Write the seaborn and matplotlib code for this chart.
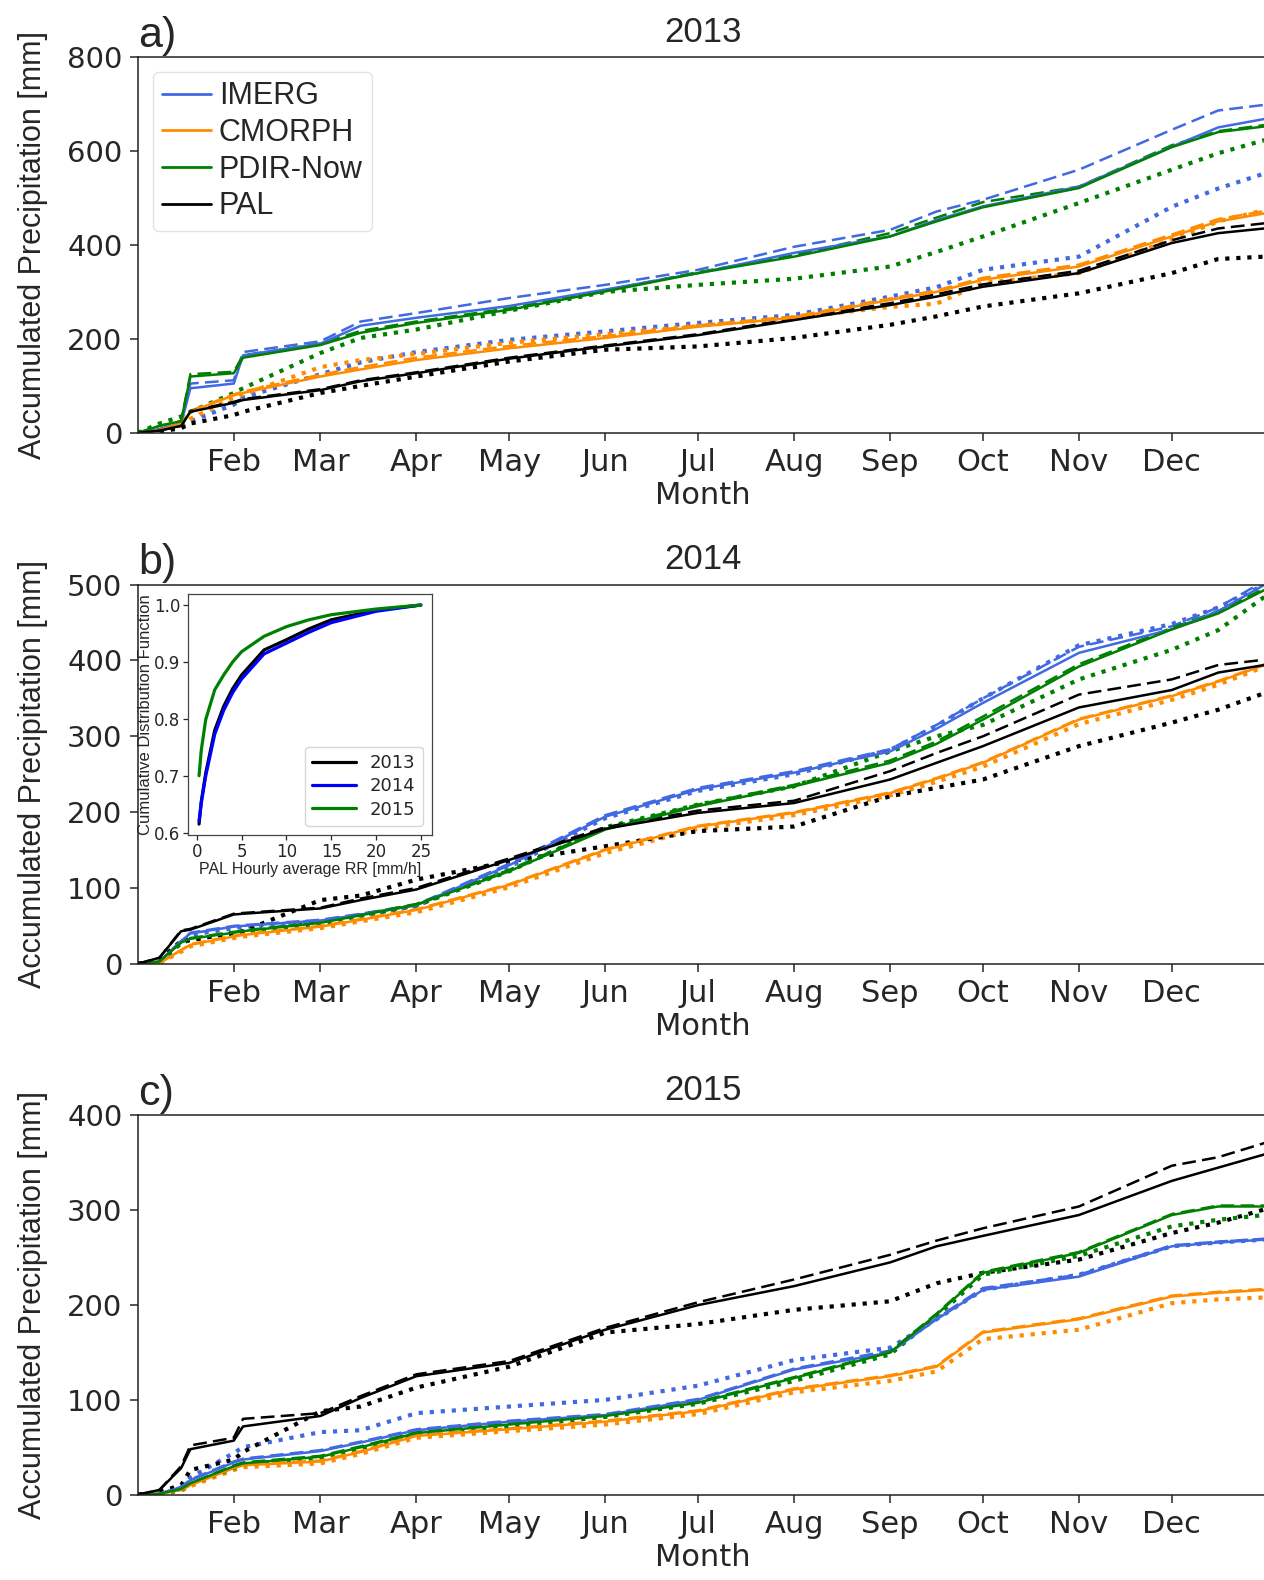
import matplotlib
matplotlib.use("Agg")
import matplotlib.pyplot as plt
import matplotlib.dates as mdates
from matplotlib.lines import Line2D
import pandas as pd
import seaborn as sns

# day of year at which the accumulated values below were read
DAYS = [0, 7, 14, 17, 31, 34, 59, 72, 90, 120, 151, 181, 212, 243, 258, 273, 304, 334, 349, 364]

PRODUCTS = ["IMERG", "CMORPH", "PDIR-Now", "PAL"]
COLORS = {"IMERG": "#4169E1", "CMORPH": "#FF8C00", "PDIR-Now": "#008000", "PAL": "black"}

# each product: [solid variant, dashed variant, dotted variant]
IMERG_2013 = [
    [0, 8, 20, 95, 105, 165, 190, 228, 245, 270, 305, 340, 383, 418, 453, 482, 524, 609, 650, 668],
    [0, 8, 20, 105, 112, 172, 195, 237, 255, 287, 315, 347, 396, 432, 471, 496, 560, 645, 686, 698],
    [0, 6, 15, 25, 60, 75, 125, 150, 172, 198, 216, 234, 251, 290, 310, 347, 375, 481, 520, 552],
]
CMORPH_2013 = [
    [0, 6, 20, 45, 80, 85, 120, 135, 155, 180, 202, 226, 245, 283, 300, 326, 354, 418, 450, 467],
    [0, 6, 20, 47, 82, 88, 124, 140, 160, 185, 206, 229, 248, 286, 303, 330, 358, 422, 455, 472],
    [0, 4, 12, 30, 75, 82, 140, 155, 168, 192, 210, 228, 245, 268, 275, 319, 340, 411, 450, 474],
]
PDIR_2013 = [
    [0, 15, 25, 120, 127, 160, 187, 213, 234, 262, 301, 340, 375, 418, 450, 480, 521, 608, 640, 652],
    [0, 15, 25, 125, 130, 165, 190, 217, 237, 265, 303, 342, 378, 425, 458, 491, 524, 612, 642, 655],
    [0, 20, 35, 45, 85, 95, 170, 202, 220, 260, 300, 315, 328, 354, 385, 418, 489, 560, 595, 623],
]
PAL_2013 = [
    [0, 5, 15, 45, 64, 70, 91, 110, 127, 158, 184, 208, 240, 272, 290, 311, 340, 404, 425, 435],
    [0, 5, 15, 47, 66, 72, 93, 112, 129, 160, 186, 210, 243, 276, 295, 316, 345, 410, 435, 446],
    [0, 3, 10, 20, 38, 45, 85, 100, 120, 152, 177, 184, 202, 230, 248, 269, 297, 340, 370, 375],
]

IMERG_2014 = [
    [0, 3, 30, 40, 49, 50, 57, 65, 77, 130, 194, 230, 252, 280, 310, 344, 410, 441, 465, 500],
    [0, 3, 30, 41, 50, 51, 58, 66, 78, 132, 196, 232, 254, 283, 315, 350, 418, 445, 470, 505],
    [0, 2, 28, 38, 47, 49, 56, 64, 76, 128, 192, 228, 250, 282, 314, 350, 420, 448, 470, 500],
]
CMORPH_2014 = [
    [0, 1, 18, 25, 36, 38, 49, 58, 71, 104, 150, 181, 199, 225, 244, 265, 322, 353, 372, 394],
    [0, 1, 18, 26, 37, 39, 50, 59, 72, 105, 151, 182, 200, 226, 245, 266, 323, 354, 373, 395],
    [0, 1, 16, 23, 34, 36, 47, 56, 68, 101, 146, 178, 196, 222, 240, 260, 316, 348, 368, 392],
]
PDIR_2014 = [
    [0, 3, 28, 33, 41, 43, 54, 64, 78, 122, 177, 208, 234, 265, 290, 322, 392, 441, 462, 493],
    [0, 3, 29, 34, 42, 44, 55, 65, 79, 124, 179, 210, 236, 268, 293, 326, 395, 443, 465, 495],
    [0, 2, 27, 32, 40, 42, 53, 63, 77, 122, 180, 210, 234, 280, 300, 315, 375, 414, 440, 484],
]
PAL_2014 = [
    [0, 8, 43, 45, 65, 66, 73, 84, 98, 137, 178, 199, 212, 243, 265, 287, 338, 361, 384, 394],
    [0, 8, 44, 46, 66, 67, 74, 86, 100, 139, 180, 202, 215, 254, 278, 300, 355, 375, 394, 401],
    [0, 5, 30, 31, 41, 43, 84, 90, 111, 135, 155, 175, 181, 221, 232, 243, 287, 318, 335, 357],
]

IMERG_2015 = [
    [0, 1, 8, 15, 34, 37, 46, 55, 68, 77, 84, 100, 132, 150, 185, 216, 230, 262, 266, 269],
    [0, 1, 8, 16, 35, 38, 47, 56, 69, 78, 85, 101, 133, 152, 186, 218, 232, 263, 267, 270],
    [0, 1, 8, 18, 44, 50, 66, 68, 86, 93, 100, 115, 142, 155, 185, 216, 232, 262, 266, 269],
]
CMORPH_2015 = [
    [0, 1, 5, 10, 28, 31, 35, 45, 62, 69, 77, 88, 111, 125, 135, 171, 185, 209, 213, 216],
    [0, 1, 5, 10, 29, 32, 36, 46, 63, 70, 78, 89, 112, 126, 136, 172, 186, 210, 214, 217],
    [0, 1, 4, 9, 26, 29, 33, 43, 60, 67, 74, 85, 108, 120, 130, 164, 174, 202, 206, 208],
]
PDIR_2015 = [
    [0, 1, 6, 12, 30, 33, 40, 50, 65, 74, 83, 97, 123, 150, 190, 234, 255, 295, 304, 304],
    [0, 1, 6, 12, 31, 34, 41, 51, 66, 75, 84, 98, 124, 151, 191, 235, 256, 296, 305, 305],
    [0, 1, 5, 11, 28, 32, 39, 49, 63, 72, 82, 96, 120, 148, 188, 232, 252, 283, 290, 295],
]
PAL_2015 = [
    [0, 5, 28, 48, 57, 72, 83, 102, 125, 139, 174, 200, 220, 245, 262, 273, 295, 331, 345, 359],
    [0, 5, 30, 52, 60, 80, 86, 104, 127, 141, 176, 203, 227, 253, 268, 281, 304, 347, 356, 371],
    [0, 3, 10, 26, 37, 45, 88, 93, 113, 135, 171, 180, 195, 204, 223, 234, 248, 276, 287, 301],
]

# inset: CDF of PAL hourly average rain rate
CDF_RR = [0.25, 0.5, 1, 2, 3, 4, 5, 7.5, 10, 12.5, 15, 20, 25]
CDF_2013 = [0.615, 0.655, 0.705, 0.78, 0.822, 0.853, 0.877, 0.921, 0.939, 0.958, 0.974, 0.991, 1.0]
CDF_2014 = [0.62, 0.652, 0.70, 0.773, 0.815, 0.846, 0.870, 0.914, 0.933, 0.952, 0.969, 0.989, 1.0]
CDF_2015 = [0.70, 0.745, 0.799, 0.851, 0.877, 0.900, 0.918, 0.945, 0.962, 0.974, 0.983, 0.993, 1.0]

sns.set_style("ticks")
plt.rcParams["font.family"] = ["DejaVu Sans"]
plt.rcParams["axes.edgecolor"] = "#222222"
plt.rcParams["axes.linewidth"] = 1.1
HELV = ["Liberation Sans", "DejaVu Sans"]

# (linestyle, linewidth) for solid / dashed / dotted variants
VARIANT_STYLES = [("-", 1.8), ((0, (5.5, 2.5)), 1.8), (":", 3.0)]


def draw_panel(ax, letter, year, series, ymax, ystep):
    base = pd.Timestamp(f"{year}-01-01")
    dates = base + pd.to_timedelta(DAYS, unit="D")
    for k, (ls, lw) in reversed(list(enumerate(VARIANT_STYLES))):
        frames = []
        for prod in PRODUCTS:
            frames.append(pd.DataFrame({"date": dates, "mm": series[prod][k], "product": prod}))
        df = pd.concat(frames, ignore_index=True)
        sns.lineplot(data=df, x="date", y="mm", hue="product", hue_order=PRODUCTS,
                     palette=COLORS, errorbar=None, legend=False, ax=ax,
                     linestyle=ls, linewidth=lw)

    ax.set_xlim(base, pd.Timestamp(f"{year + 1}-01-01"))
    ax.set_ylim(0, ymax)
    ax.set_yticks(range(0, ymax + 1, ystep))
    ax.xaxis.set_major_locator(mdates.MonthLocator(bymonth=range(2, 13)))
    ax.xaxis.set_major_formatter(mdates.DateFormatter("%b"))
    ax.tick_params(axis="x", labelsize=22, length=6, width=1.1, pad=5)
    ax.tick_params(axis="y", labelsize=21, length=6, width=1.1, pad=5)
    ax.spines["right"].set_visible(False)
    ax.set_xlabel("Month", fontsize=22, labelpad=3)
    ax.set_ylabel("Accumulated Precipitation [mm]", fontsize=22, family=HELV, labelpad=14)
    ax.set_title(str(year), fontsize=25, family=HELV, pad=11)
    ax.text(0.0, 1.003, letter, transform=ax.transAxes, fontsize=31, family=HELV,
            ha="left", va="bottom")


fig = plt.figure(figsize=(12.64, 15.80), dpi=100)

ax_a = fig.add_axes([0.109, 0.726, 0.894, 0.238])
draw_panel(ax_a, "a)", 2013,
           {"IMERG": IMERG_2013, "CMORPH": CMORPH_2013, "PDIR-Now": PDIR_2013, "PAL": PAL_2013},
           800, 200)
handles = [Line2D([0], [0], color=COLORS[p], lw=2.0) for p in PRODUCTS]
leg = ax_a.legend(handles, PRODUCTS, loc="upper left", prop={"family": HELV, "size": 22},
                  handlelength=1.6, handletextpad=0.25, labelspacing=0.22,
                  borderpad=0.3, borderaxespad=0.5, frameon=True)
leg.get_frame().set_edgecolor("#dddddd")

ax_b = fig.add_axes([0.109, 0.390, 0.894, 0.240])
draw_panel(ax_b, "b)", 2014,
           {"IMERG": IMERG_2014, "CMORPH": CMORPH_2014, "PDIR-Now": PDIR_2014, "PAL": PAL_2014},
           500, 100)

ax_c = fig.add_axes([0.109, 0.054, 0.894, 0.240])
draw_panel(ax_c, "c)", 2015,
           {"IMERG": IMERG_2015, "CMORPH": CMORPH_2015, "PDIR-Now": PDIR_2015, "PAL": PAL_2015},
           400, 100)

# inset with the CDF
ins = fig.add_axes([0.1487, 0.4715, 0.193, 0.1525])
cdf = pd.concat([
    pd.DataFrame({"rr": CDF_RR, "cdf": CDF_2013, "year": "2013"}),
    pd.DataFrame({"rr": CDF_RR, "cdf": CDF_2014, "year": "2014"}),
    pd.DataFrame({"rr": CDF_RR, "cdf": CDF_2015, "year": "2015"}),
], ignore_index=True)
sns.lineplot(data=cdf, x="rr", y="cdf", hue="year",
             palette={"2013": "black", "2014": "blue", "2015": "green"},
             linewidth=2.3, errorbar=None, ax=ins)
ins.set_xticks([0, 5, 10, 15, 20, 25])
ins.set_yticks([0.6, 0.7, 0.8, 0.9, 1.0])
ins.tick_params(labelsize=12, length=3.5, width=0.9, pad=2)
for sp in ins.spines.values():
    sp.set_linewidth(0.9)
    sp.set_edgecolor("#444444")
ins.set_xlabel("PAL Hourly average RR [mm/h]", fontsize=11.5, family=HELV, labelpad=1)
ins.set_ylabel("Cumulative Distribution Function", fontsize=12, family=HELV, labelpad=1)
ins.legend(loc="lower right", fontsize=13, handlelength=2.4, title=None,
           borderaxespad=0.5, labelspacing=0.3)

fig.savefig("out.png", dpi=100)
